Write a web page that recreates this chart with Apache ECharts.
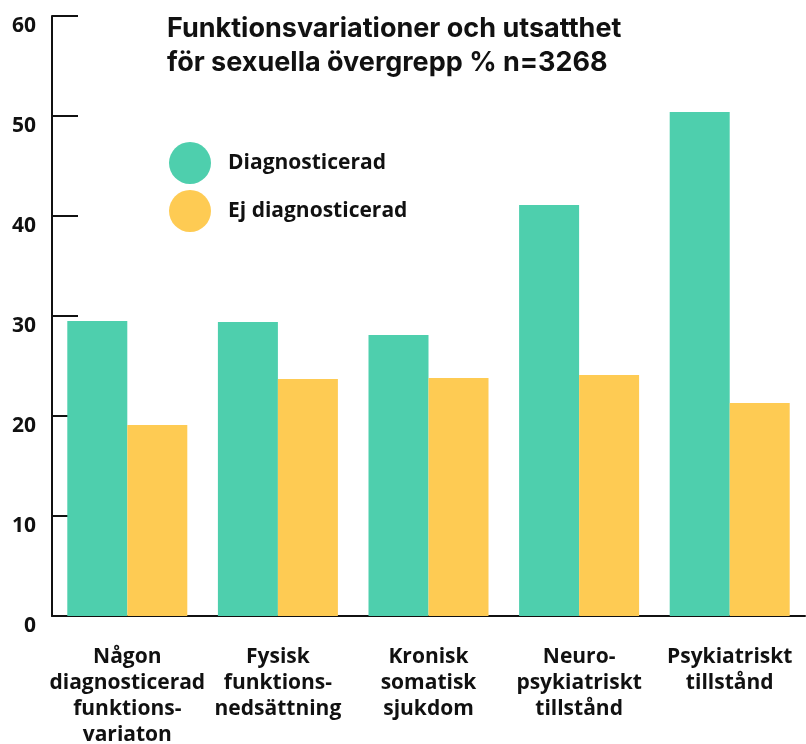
<!DOCTYPE html>
<html>
<head>
<meta charset="utf-8">
<script src="https://cdn.jsdelivr.net/npm/echarts@6/dist/echarts.min.js"></script>
<style>
  html, body { margin: 0; padding: 0; background: #fff; }
  #chart { width: 806px; height: 744px; }
</style>
</head>
<body>
<div id="chart"></div>
<script>
const categories = [
  'Någon\ndiagnosticerad\nfunktions-\nvariaton',
  'Fysisk\nfunktions-\nnedsättning',
  'Kronisk\nsomatisk\nsjukdom',
  'Neuro-\npsykiatriskt\ntillstånd',
  'Psykiatriskt\ntillstånd'
]
const diagnosticerad = [29.5, 29.4, 28.1, 41.1, 50.4]
const ejDiagnosticerad = [19.1, 23.7, 23.8, 24.1, 21.3]

const chart = echarts.init(document.getElementById('chart'))
const font = '"Open Sans", "Noto Sans", sans-serif'

const option = {
  backgroundColor: '#fff',
  animation: false,
  title: {
    text: 'Funktionsvariationer och utsatthet\nför sexuella övergrepp % n=3268',
    left: 162,
    top: 7,
    textStyle: {
      color: '#111',
      fontFamily: 'Inter, sans-serif',
      fontSize: 27,
      fontWeight: 'bold',
      lineHeight: 34
    }
  },
  legend: {
    orient: 'vertical',
    left: 164,
    top: 137,
    icon: 'circle',
    itemWidth: 42,
    itemHeight: 42,
    itemGap: 6,
    textStyle: {
      color: '#111',
      fontFamily: font,
      fontSize: 21,
      fontWeight: 'bold',
      padding: [0, 0, 0, 12]
    },
    data: ['Diagnosticerad', 'Ej diagnosticerad']
  },
  grid: {
    left: 52,
    right: 1,
    top: 16,
    bottom: 128,
    containLabel: false,
    outerBoundsMode: 'none'
  },
  xAxis: {
    type: 'category',
    data: categories,
    axisLine: { lineStyle: { color: '#111', width: 2 } },
    axisTick: { inside: true, length: 14, lineStyle: { color: '#111', width: 2 } },
    axisLabel: {
      color: '#111',
      fontFamily: font,
      fontSize: 21,
      fontWeight: 'bold',
      lineHeight: 26,
      margin: 28,
      interval: 0
    }
  },
  yAxis: {
    type: 'value',
    min: 0,
    max: 60,
    interval: 10,
    splitLine: { show: false },
    axisLine: { show: true, lineStyle: { color: '#111', width: 2 } },
    axisTick: { show: true, inside: true, length: 26, lineStyle: { color: '#111', width: 2 } },
    axisLabel: {
      color: '#111',
      fontFamily: font,
      fontSize: 21,
      fontWeight: 'bold',
      margin: 16,
      verticalAlign: 'top'
    }
  },
  series: [
    {
      name: 'Diagnosticerad',
      type: 'bar',
      data: diagnosticerad,
      barWidth: 60,
      barGap: 0,
      itemStyle: { color: '#4ECFAD' }
    },
    {
      name: 'Ej diagnosticerad',
      type: 'bar',
      data: ejDiagnosticerad,
      barWidth: 60,
      barGap: 0,
      itemStyle: { color: '#FECB53' }
    }
  ]
}

chart.setOption(option)
</script>
</body>
</html>
